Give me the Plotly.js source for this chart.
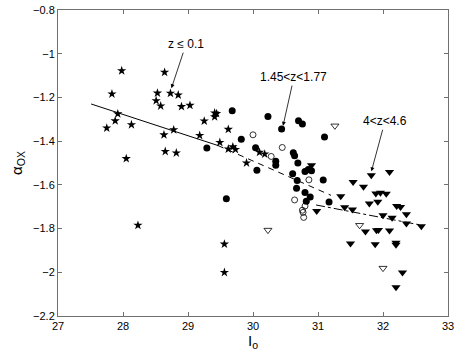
<!DOCTYPE html>
<html>
<head>
<meta charset="utf-8">
<script src="https://cdn.plot.ly/plotly-3.0.1.min.js"></script>
<style>html,body{margin:0;padding:0;background:#fff;}#plot{width:458px;height:359px;}</style>
</head>
<body>
<div id="plot"></div>
<script>
// z <= 0.1 (stars)
const starX = [27.98,28.64,27.83,28.53,28.73,28.85,28.51,28.58,28.90,29.03,27.92,27.88,27.75,28.13,28.78,28.63,29.25,29.41,29.44,29.41,29.18,29.49,28.65,28.82,28.05,29.62,29.69,29.62,29.73,29.90,30.10,30.18,28.23,29.56,29.56];
const starY = [-1.078,-1.085,-1.184,-1.180,-1.181,-1.189,-1.215,-1.239,-1.242,-1.236,-1.275,-1.307,-1.340,-1.325,-1.348,-1.371,-1.308,-1.271,-1.274,-1.289,-1.374,-1.406,-1.447,-1.454,-1.480,-1.346,-1.426,-1.436,-1.438,-1.500,-1.451,-1.459,-1.785,-1.871,-2.001];
// 1.45<z<1.77 (filled circles)
const fcX = [29.29,29.68,29.82,30.04,30.06,29.59,30.23,30.44,30.70,30.76,31.10,30.35,30.35,30.62,30.64,30.69,30.61,30.80,30.85,30.90,30.68,31.08,30.67,30.80,30.88,30.82,31.17];
const fcY = [-1.431,-1.261,-1.391,-1.430,-1.533,-1.664,-1.287,-1.344,-1.307,-1.321,-1.381,-1.492,-1.510,-1.453,-1.467,-1.500,-1.549,-1.539,-1.530,-1.535,-1.580,-1.578,-1.615,-1.635,-1.656,-1.675,-1.678];
// open circles
const ocX = [30.00,30.45,30.28,30.86,30.64,30.80,30.76,30.77,30.78];
const ocY = [-1.371,-1.429,-1.470,-1.577,-1.669,-1.697,-1.716,-1.726,-1.749];
// 4<z<4.6 (filled triangles)
const ftX = [30.90,31.82,32.10,31.54,31.70,31.89,31.96,32.05,31.35,31.79,31.92,32.21,32.27,30.98,31.41,31.53,32.36,32.00,32.14,32.36,32.59,31.73,31.90,31.93,32.10,31.50,31.88,32.20,32.20,32.30,32.20];
const ftY = [-1.510,-1.556,-1.541,-1.587,-1.609,-1.640,-1.636,-1.641,-1.652,-1.685,-1.677,-1.697,-1.701,-1.720,-1.702,-1.713,-1.734,-1.739,-1.751,-1.777,-1.789,-1.813,-1.808,-1.806,-1.809,-1.868,-1.872,-1.865,-1.874,-2.001,-2.069];
// open triangles
const otX = [31.26,30.23,31.64,32.00];
const otY = [-1.330,-1.807,-1.785,-1.981];
// fit lines
const solidX = [27.51,29.46], solidY = [-1.230,-1.420];
const dashX = [29.46,31.20], dashY = [-1.420,-1.648];
const dashdotX = [30.97,32.60], dashdotY = [-1.692,-1.785];
// labels
const labels = ['z ≤ 0.1','1.45<z<1.77','4<z<4.6'];
const labelPos = [[28.97,-0.956],[30.63,-1.107],[32.03,-1.309]];
const arrowTip = [[28.745,-1.158],[30.462,-1.330],[31.822,-1.538]];
const xTicks = [27,28,29,30,31,32,33];
const yTicks = [-2.2,-2,-1.8,-1.6,-1.4,-1.2,-1,-0.8];

const traces = [
  {x:solidX,y:solidY,mode:'lines',line:{color:'#000',width:1}},
  {x:dashX,y:dashY,mode:'lines',line:{color:'#000',width:1,dash:'6px,5px'}},
  {x:dashdotX,y:dashdotY,mode:'lines',line:{color:'#000',width:1,dash:'dashdot'}},
  {x:starX,y:starY,mode:'markers',marker:{symbol:'star',size:7,color:'#000'}},
  {x:fcX,y:fcY,mode:'markers',marker:{symbol:'circle',size:7,color:'#000'}},
  {x:ocX,y:ocY,mode:'markers',marker:{symbol:'circle-open',size:6,color:'#000',line:{width:0.8}}},
  {x:ftX,y:ftY,mode:'markers',marker:{symbol:'triangle-down',size:8,color:'#000'}},
  {x:otX,y:otY,mode:'markers',marker:{symbol:'triangle-down-open',size:7,color:'#000',line:{width:0.8}}}
];

const annotations = labels.map((t,i)=>({
  text:t, x:arrowTip[i][0], y:arrowTip[i][1], ax:labelPos[i][0], ay:labelPos[i][1],
  xref:'x', yref:'y', axref:'x', ayref:'y', showarrow:true, arrowhead:2, arrowsize:1,
  arrowwidth:0.8, arrowcolor:'#000', font:{size:12,color:'#000',family:'Liberation Sans, Arial, sans-serif'}
}));

const axisCommon = {showgrid:false, zeroline:false, showline:true, linecolor:'#707070', linewidth:1,
  mirror:'ticks', ticks:'inside', ticklen:4, tickcolor:'#707070',
  tickfont:{size:11,color:'#000',family:'Liberation Sans, Arial, sans-serif'}};

const layout = {
  width:458, height:359, margin:{l:58,r:10,t:10,b:43},
  paper_bgcolor:'#fff', plot_bgcolor:'#fff', showlegend:false,
  font:{family:'Liberation Sans, Arial, sans-serif',color:'#000'},
  xaxis:Object.assign({}, axisCommon, {range:[27,33], tickvals:xTicks, ticktext:xTicks.map(String),
    title:{text:'I<sub>o</sub>', font:{size:15}, standoff:2}}),
  yaxis:Object.assign({}, axisCommon, {range:[-2.2,-0.8], tickvals:yTicks,
    ticktext:yTicks.map(v=>String(v).replace('-','\u2212')),
    title:{text:'α<sub>OX</sub>', font:{size:15}, standoff:6}}),
  annotations:annotations
};
Plotly.newPlot('plot', traces, layout, {displayModeBar:false, staticPlot:true});
</script>
</body>
</html>
